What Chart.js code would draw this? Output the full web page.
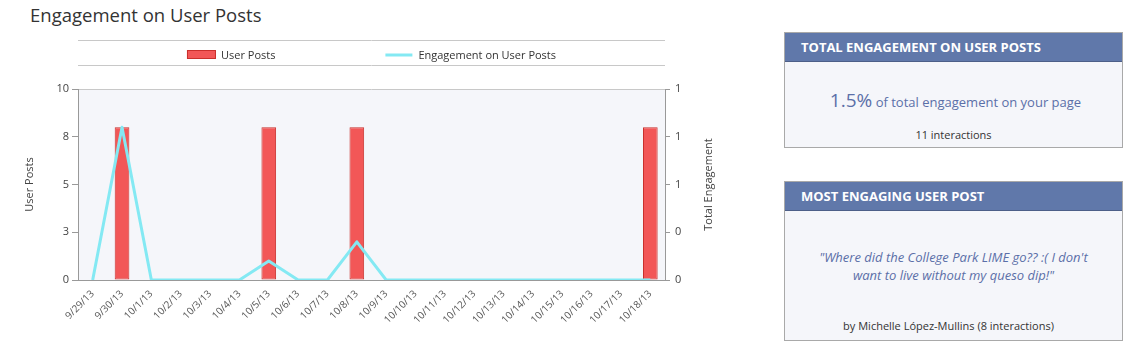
<!DOCTYPE html>
<html>
<head>
<meta charset="utf-8">
<script src="https://cdn.jsdelivr.net/npm/chart.js@4/dist/chart.umd.min.js"></script>
<style>
  html, body { margin:0; padding:0; background:#fff; width:1140px; height:354px; overflow:hidden; font-family:"Open Sans", sans-serif; }
  #title { position:absolute; left:30px; top:2px; font-size:18.5px; color:#333; white-space:nowrap; }
  #wrap { position:absolute; left:0; top:0; width:720px; height:354px; }
  .panel { position:absolute; left:784px; width:337px; border:1px solid #a9a9a9; background:#f5f6fa; }
  .panel .hdr { height:28px; background:#6078aa; color:#fff; font-weight:bold; font-size:13px; line-height:29px; padding-left:16px; border-bottom:1px solid #4d5f88; }
  .blue { color:#5b6fa8; }
</style>
</head>
<body>
<div id="title">Engagement on User Posts</div>
<div id="wrap"><canvas id="c" width="720" height="354"></canvas></div>

<div class="panel" style="top:32px;height:114px;">
  <div class="hdr">TOTAL ENGAGEMENT ON USER POSTS</div>
  <div class="blue" style="position:absolute;left:4px;right:0;top:54px;text-align:center;font-size:13px;white-space:nowrap;"><span style="font-size:19px;">1.5%</span> of total engagement on your page</div>
  <div style="position:absolute;left:0;right:0;top:94px;text-align:center;font-size:11px;color:#333;">11 interactions</div>
</div>

<div class="panel" style="top:181px;height:158px;">
  <div class="hdr">MOST ENGAGING USER POST</div>
  <div class="blue" style="position:absolute;left:0;right:0;top:66px;text-align:center;font-size:13px;font-style:italic;line-height:18px;white-space:nowrap;">"Where did the College Park LIME go?? :( I don't<br>want to live without my queso dip!"</div>
  <div style="position:absolute;left:0;right:10px;top:136px;text-align:center;font-size:11px;color:#333;">by Michelle López-Mullins (8 interactions)</div>
</div>

<script>
const categories = ["9/29/13","9/30/13","10/1/13","10/2/13","10/3/13","10/4/13","10/5/13","10/6/13","10/7/13","10/8/13","10/9/13","10/10/13","10/11/13","10/12/13","10/13/13","10/14/13","10/15/13","10/16/13","10/17/13","10/18/13"];
const userPosts = [0,8,0,0,0,0,8,0,0,8,0,0,0,0,0,0,0,0,0,8];
const engagement = [0,0.8,0,0,0,0,0.1,0,0,0.2,0,0,0,0,0,0,0,0,0,0];
const leftTicks = [0,2.5,5,7.5,10];
const rightTicks = [0,0.25,0.5,0.75,1];
const rightTitle = 'Total Engagement';

const FONT = "Open Sans";

const bgPlugin = {
  id: 'bg',
  beforeDraw(chart) {
    const a = chart.chartArea, ctx = chart.ctx;
    ctx.save();
    ctx.fillStyle = '#f5f6fa';
    ctx.fillRect(a.left, a.top, a.right - a.left, a.bottom - a.top);
    ctx.strokeStyle = '#c8c8c8';
    ctx.lineWidth = 1;
    ctx.beginPath();
    ctx.moveTo(a.left, a.top + 0.5);
    ctx.lineTo(a.right, a.top + 0.5);
    ctx.stroke();
    ctx.restore();
  }
};

const legendPlugin = {
  id: 'customLegend',
  afterDraw(chart) {
    const a = chart.chartArea, ctx = chart.ctx;
    const ds = chart.data.datasets;
    ctx.save();
    ctx.strokeStyle = '#c8c8c8';
    ctx.lineWidth = 1;
    ctx.beginPath();
    ctx.moveTo(a.left, 40.5); ctx.lineTo(a.right, 40.5);
    ctx.moveTo(a.left, 65.5); ctx.lineTo(a.right, 65.5);
    ctx.stroke();
    ctx.font = '11px "' + FONT + '"';
    ctx.textBaseline = 'middle';
    ctx.fillStyle = '#333';
    const t1 = ctx.measureText(ds[0].label).width;
    const t2 = ctx.measureText(ds[1].label).width;
    const w1 = 29 + 5 + t1, w2 = 27 + 6 + t2, gap = 110;
    let x = (a.left + a.right) / 2 - (w1 + gap + w2) / 2;
    ctx.fillStyle = ds[0].backgroundColor;
    ctx.fillRect(x, 50, 29, 9);
    ctx.strokeStyle = ds[0].borderColor;
    ctx.strokeRect(x + 0.5, 50.5, 28, 8);
    ctx.fillStyle = '#333';
    ctx.fillText(ds[0].label, x + 34, 55.5);
    x += w1 + gap;
    ctx.strokeStyle = ds[1].borderColor;
    ctx.lineWidth = 3;
    ctx.beginPath();
    ctx.moveTo(x, 55); ctx.lineTo(x + 27, 55);
    ctx.stroke();
    ctx.fillText(ds[1].label, x + 33, 55.5);

    // right axis title, reading bottom-to-top
    const s = chart.scales.y1;
    ctx.translate(s.right - 11, (s.top + s.bottom) / 2);
    ctx.rotate(-Math.PI / 2);
    ctx.textAlign = 'center';
    ctx.fillStyle = '#444';
    ctx.fillText(rightTitle, 0, 0);
    ctx.restore();
  }
};

new Chart(document.getElementById('c'), {
  data: {
    labels: categories,
    datasets: [
      { type:'bar', label:'User Posts', data:userPosts, yAxisID:'y',
        backgroundColor:'#f25757', borderColor:'#c9302c', borderWidth:1, borderSkipped:false,
        categoryPercentage:1, barPercentage:0.5, order:2 },
      { type:'line', label:'Engagement on User Posts', data:engagement, yAxisID:'y1',
        borderColor:'#84e9f3', borderWidth:3, borderJoinStyle:'round', pointRadius:0, tension:0, fill:false, order:1 }
    ]
  },
  options: {
    responsive:false,
    animation:false,
    layout: { padding: { top:89, left:0, right:0, bottom:0 } },
    plugins: { legend:{display:false}, title:{display:false}, tooltip:{enabled:false} },
    scales: {
      x: {
        grid: { display:false },
        border: { color:'#999' },
        ticks: { autoSkip:false, maxRotation:45, minRotation:45, color:'#555', font:{ family:FONT, size:10 }, padding:0 },
        afterFit(s) { s.height = 74; }
      },
      y: {
        position:'left', min:0, max:10,
        afterBuildTicks(s) { s.ticks = leftTicks.map(v => ({value:v})); },
        ticks: { callback:v => Math.round(v), color:'#444', font:{ family:FONT, size:11 }, padding:3 },
        grid: { drawOnChartArea:false, tickLength:6, color:'#999' },
        border: { color:'#999' },
        title: { display:true, text:'User Posts', color:'#444', font:{ family:FONT, size:11 }, padding:{ top:23, bottom:0 } },
        afterFit(s) { s.width = 78; }
      },
      y1: {
        position:'right', min:0, max:1,
        afterBuildTicks(s) { s.ticks = rightTicks.map(v => ({value:v})); },
        ticks: { callback:v => Math.round(v), color:'#444', font:{ family:FONT, size:11 }, padding:5 },
        grid: { drawOnChartArea:false, tickLength:5, color:'#999' },
        border: { color:'#999' },
        afterFit(s) { s.width = 55; }
      }
    }
  },
  plugins: [bgPlugin, legendPlugin]
});
</script>
</body>
</html>
